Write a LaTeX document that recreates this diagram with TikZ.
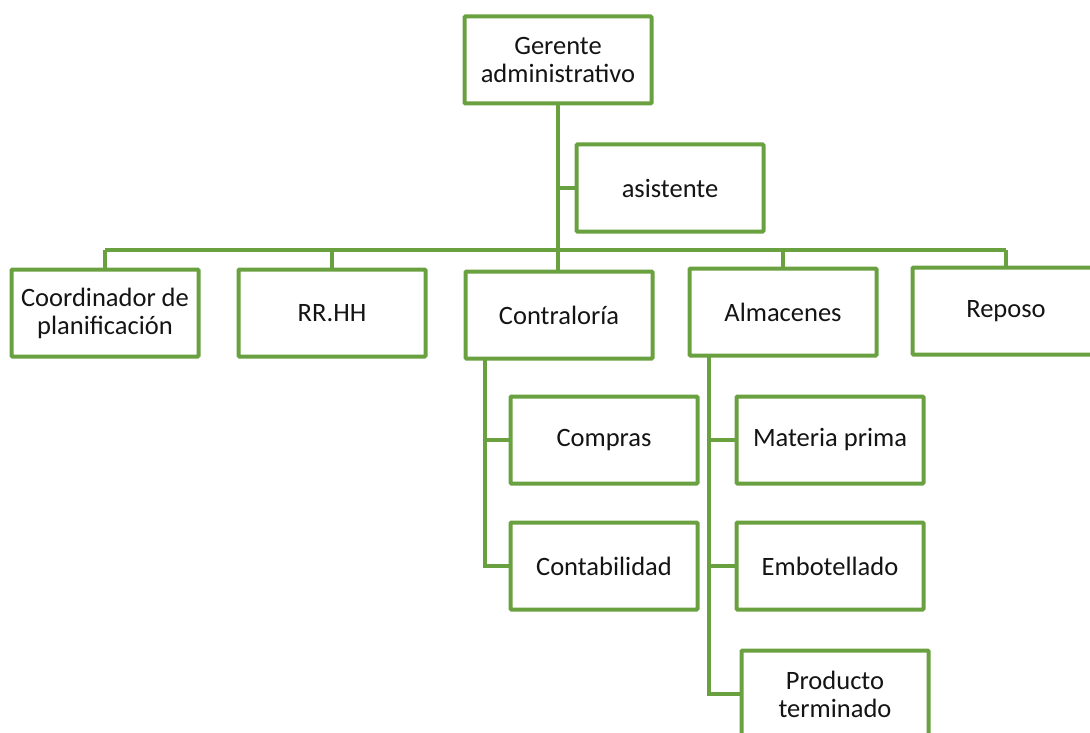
\documentclass[tikz,border=0pt]{standalone}
\usepackage{fontspec}
\setmainfont{Carlito}
\definecolor{orgGreen}{RGB}{106,161,64}
\definecolor{orgText}{RGB}{20,20,20}
\begin{document}
\begin{tikzpicture}[x=1pt,y=-1pt,
  unit/.style={draw=orgGreen, line width=4pt, fill=white, rounded corners=1pt,
    minimum width=187pt, minimum height=87pt, inner sep=2pt, align=center,
    text=orgText, font=\fontsize{26.5}{28}\selectfont},
  link/.style={draw=orgGreen, line width=4pt}]
\useasboundingbox (0,0) rectangle (1090,733);
\clip (0,0) rectangle (1090,733);
\coordinate (bus) at (558,250);
\coordinate (ct) at (485,359);
\coordinate (at) at (709,357);
% nodes
\node[unit] (ger) at (558,60) {Gerente\\administrativo};
\node[unit] (asis) at (670,188) {asistente};
\node[unit] (coord) at (105,313) {Coordinador de\\planificación};
\node[unit] (rrhh) at (332,313) {RR.HH};
\node[unit] (contra) at (559,315) {Contraloría};
\node[unit] (alm) at (783,312) {Almacenes};
\node[unit] (rep) at (1006,311) {Reposo};
\node[unit] (comp) at (604,440) {Compras};
\node[unit] (contab) at (604,566) {Contabilidad};
\node[unit] (mat) at (830,440) {Materia prima};
\node[unit] (emb) at (830,566) {Embotellado};
\node[unit] (prod) at (835,694) {Producto\\terminado};
% links
\draw[link] (ger.south) -- (ger.south |- contra.north);
\draw[link] (asis.west) -- (asis.west -| ger.south);
\draw[link] (coord.north |- bus) -- (rep.north |- bus);
\draw[link] (coord.north) -- (coord.north |- bus);
\draw[link] (rrhh.north) -- (rrhh.north |- bus);
\draw[link] (alm.north) -- (alm.north |- bus);
\draw[link] (rep.north) -- (rep.north |- bus);
\draw[link] (ct) |- (contab.west);
\draw[link] (ct |- comp.west) -- (comp.west);
\draw[link] (at) |- (prod.west);
\draw[link] (at |- mat.west) -- (mat.west);
\draw[link] (at |- emb.west) -- (emb.west);
\end{tikzpicture}
\end{document}
